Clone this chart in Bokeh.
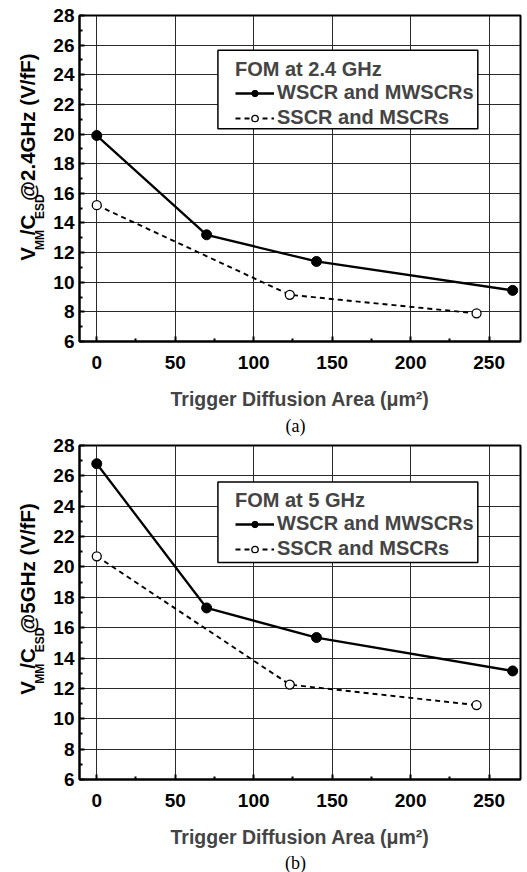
import math
from bokeh.plotting import figure
from bokeh.models import Range1d, FixedTicker, Legend, LegendItem, BoxAnnotation
from bokeh.layouts import column, row
from bokeh.core.properties import value
from bokeh.embed import file_html
from bokeh.resources import INLINE

# ---------------- data ----------------
x_ticks = [0, 50, 100, 150, 200, 250]
x_minor = [25, 75, 125, 175, 225]
y_ticks = [6, 8, 10, 12, 14, 16, 18, 20, 22, 24, 26, 28]
y_minor = [7, 9, 11, 13, 15, 17, 19, 21, 23, 25, 27]

wscr_x = [0, 70, 140, 265]
sscr_x = [0, 123, 242]

a_wscr_y = [19.9, 13.2, 11.4, 9.45]
a_sscr_y = [15.2, 9.15, 7.9]

b_wscr_y = [26.8, 17.3, 15.35, 13.15]
b_sscr_y = [20.7, 12.25, 10.9]

wscr_label = "WSCR and MWSCRs"
sscr_label = "SSCR and MSCRs"
x_label = "Trigger Diffusion Area (\u03bcm\u00b2)"

FONT = "Liberation Sans"
W = {'V': .667, 'M': .833, '/': .278, 'C': .722, 'E': .667, 'S': .667, 'D': .722,
     '@': .975, '2': .556, '.': .278, '4': .556, '5': .556, 'G': .778, 'H': .722,
     'z': .5, ' ': .278, '(': .333, ')': .333, 'f': .333, 'F': .611}

YLAB_W = 50


def text_w(s, size):
    return sum(W.get(c, .6) for c in s) * size


def blank_fig(w, h):
    f = figure(width=w, height=h, x_range=Range1d(0, w), y_range=Range1d(0, h),
               min_border=0, min_border_left=0, min_border_right=0,
               min_border_top=0, min_border_bottom=0,
               x_axis_location=None, y_axis_location=None,
               output_backend="svg", toolbar_location=None,
               background_fill_color="white", border_fill_color="white")
    f.outline_line_color = None
    f.grid.visible = False
    return f


def ylabel_fig(h, start, freq):
    f = blank_fig(YLAB_W, h)
    # (text, font size, centre x, advance factor)
    segs = [("V", 20.5, 26.5, 1.0), ("MM", 12, 39.5, 0.93), ("/C", 20.5, 26.5, 1.0),
            ("ESD", 12, 39.5, 0.93), ("@" + freq + " (V/fF)", 20.5, 26.5, 1.0)]
    yy = start
    for txt, fs, bx, adv in segs:
        f.text(x=[bx], y=[yy], text=[txt], angle=math.pi / 2,
               text_align="left", text_baseline="middle",
               text_font=value(FONT), text_font_style="bold",
               text_font_size=value(f"{fs}px"), text_color="black")
        yy += text_w(txt, fs) * adv
    return f


def caption_fig(h, ypos, txt):
    f = blank_fig(527, h)
    f.text(x=[295], y=[ypos], text=[txt], text_align="center", text_baseline="middle",
           text_font=value("Liberation Serif"), text_font_size=value("18px"),
           text_color="black")
    return f


def main_fig(legend_title, wy, sy, btop, fh, bbot, leg_loc, box):
    p = figure(width=527 - YLAB_W, height=btop + fh + bbot,
               x_range=Range1d(-11, 270), y_range=Range1d(6, 28),
               min_border_left=77 - YLAB_W, min_border_right=7,
               min_border_top=btop, min_border_bottom=bbot,
               output_backend="svg", toolbar_location=None,
               background_fill_color="white", border_fill_color="white")
    p.outline_line_color = "black"
    p.outline_line_width = 2

    for ax in (p.xaxis, p.yaxis):
        ax.major_tick_in = 5
        ax.major_tick_out = 0
        ax.minor_tick_in = 3
        ax.minor_tick_out = 0
        ax.major_tick_line_width = 2
        ax.minor_tick_line_width = 2
        ax.axis_line_width = 2
        ax.axis_line_color = "black"
        ax.major_label_text_font = FONT
        ax.major_label_text_font_style = "bold"
        ax.major_label_text_font_size = "19px"
        ax.major_label_text_color = "black"
    p.xaxis.ticker = FixedTicker(ticks=x_ticks, minor_ticks=x_minor)
    p.yaxis.ticker = FixedTicker(ticks=y_ticks, minor_ticks=y_minor)
    p.xaxis.major_label_standoff = 14
    p.yaxis.major_label_standoff = 5
    p.xaxis.axis_label = x_label
    p.xaxis.axis_label_text_font = FONT
    p.xaxis.axis_label_text_font_style = "bold"
    p.xaxis.axis_label_text_font_size = "19.5px"
    p.xaxis.axis_label_standoff = 16

    p.grid.grid_line_color = "#2a2a2a"
    p.grid.grid_line_width = 1
    p.grid.grid_line_alpha = 1

    l1 = p.line(wscr_x, wy, line_color="black", line_width=2.3)
    s1 = p.scatter(wscr_x, wy, size=10, fill_color="black", line_color="black")
    l2 = p.line(sscr_x, sy, line_color="black", line_width=1.9, line_dash="5 4")
    s2 = p.scatter(sscr_x, sy, size=9, fill_color="white", line_color="black", line_width=1.3)

    bl, br, bt, bb = box
    p.add_layout(BoxAnnotation(left=bl, right=br, top=bt, bottom=bb,
                               fill_color="white", fill_alpha=1,
                               line_color="black", line_width=1.5, line_alpha=1))

    leg = Legend(items=[LegendItem(label=wscr_label, renderers=[l1, s1]),
                        LegendItem(label=sscr_label, renderers=[l2, s2])],
                 title=legend_title, location=leg_loc)
    leg.title_text_font = FONT
    leg.title_text_font_style = "bold"
    leg.title_text_font_size = "20px"
    leg.label_text_font = FONT
    leg.label_text_font_style = "bold"
    leg.label_text_font_size = "20px"
    leg.border_line_alpha = 0
    leg.background_fill_alpha = 0
    leg.glyph_width = 39
    leg.glyph_height = 16
    leg.label_height = 20
    leg.label_standoff = 3
    leg.padding = 3
    leg.spacing = 2
    leg.title_standoff = 0
    leg.margin = 0
    p.add_layout(leg)
    return p


ma = main_fig("FOM at 2.4 GHz", a_wscr_y, a_sscr_y, 15, 328, 69, (153, 209),
              (77.2, 242.8, 25.65, 20.35))
ya = ylabel_fig(412, 102, "2.4GHz")
ca = caption_fig(24, 11, "(a)")

mb = main_fig("FOM at 5 GHz", b_wscr_y, b_sscr_y, 9, 336, 69, (153, 216),
              (77.2, 242.8, 25.6, 20.29))
yb = ylabel_fig(414, 105, "5GHz")
cb = caption_fig(22, 10, "(b)")

layout = column(row(ya, ma, spacing=0), ca, row(yb, mb, spacing=0), cb, spacing=0)
open("out.html", "w").write(file_html(layout, INLINE))
